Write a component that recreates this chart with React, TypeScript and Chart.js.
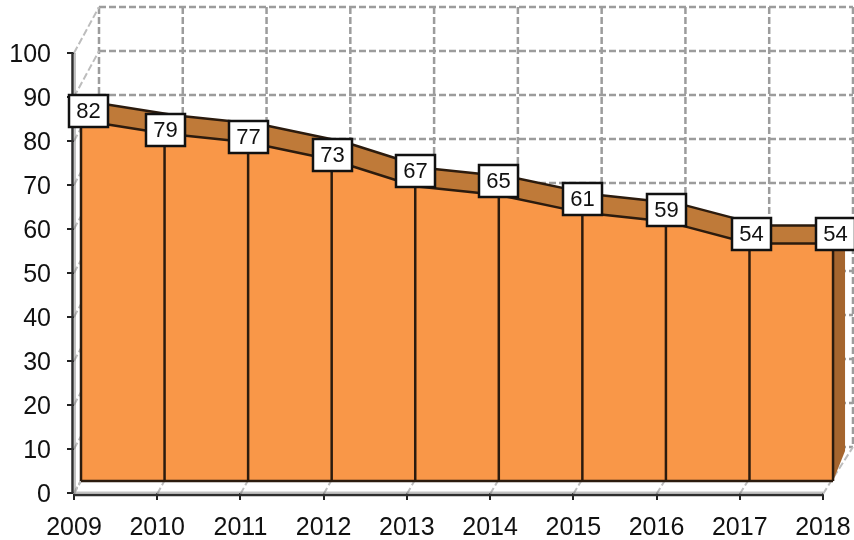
import React, { useEffect, useRef } from "react";
import { Chart, registerables } from "chart.js";

Chart.register(...registerables);

const years = ["2009", "2010", "2011", "2012", "2013", "2014", "2015", "2016", "2017", "2018"];
const values = [82, 79, 77, 73, 67, 65, 61, 59, 54, 54];
const yTicks = [0, 10, 20, 30, 40, 50, 60, 70, 80, 90, 100];

// label placement relative to the front ridge of the area (style only)
const labelNudgeX = [7, 1, 0, 1, 0, 0, 0, 1, 2, 2];
const labelNudgeY = [-9.7, -3.4, -5.2, -4.8, -15, -14, -13.6, -11.4, -9.4, -9.4];

const FRONT = "#F99748";
const TOP = "#BF7A39";
const SIDE = "#A5652E";
const EDGE = "#2B1B0E";
const GRID = "#9C9C9C";
const AXIS = "#2E2E2E";
const FONT = '"Liberation Sans", Arial, sans-serif';

const depth3d = {
  id: "depth3d",
  beforeDatasetsDraw(chart: any) {
    const { ctx, scales } = chart;
    const { x, y, x2, y2 } = scales;
    const bx = (i: number) => x.getPixelForValue(i * 1.0067) + 25;
    const by = (v: number) => y.getPixelForValue(v) - 46;

    ctx.save();
    ctx.lineWidth = 2.5;
    ctx.setLineDash([7, 3]);
    ctx.strokeStyle = GRID;
    yTicks.forEach((v) => {
      ctx.beginPath();
      ctx.moveTo(bx(0), by(v));
      ctx.lineTo(bx(years.length - 1), by(v));
      ctx.stroke();
    });
    years.forEach((_, i) => {
      ctx.beginPath();
      ctx.moveTo(bx(i), by(100));
      ctx.lineTo(bx(i), by(0));
      ctx.stroke();
    });
    // side wall and floor diagonals
    ctx.strokeStyle = "#BDBDBD";
    ctx.lineWidth = 2;
    yTicks.forEach((v) => {
      ctx.beginPath();
      ctx.moveTo(x.getPixelForValue(0), y.getPixelForValue(v));
      ctx.lineTo(bx(0), by(v));
      ctx.stroke();
    });
    years.forEach((_, i) => {
      ctx.beginPath();
      ctx.moveTo(x.getPixelForValue(i), y.getPixelForValue(0) + 1);
      ctx.lineTo(bx(i), by(0));
      ctx.stroke();
    });
    ctx.setLineDash([]);

    // area depth: top strips and right-hand side face
    const dx = 12;
    const dy = -18;
    ctx.lineJoin = "round";
    ctx.fillStyle = TOP;
    ctx.beginPath();
    values.forEach((v, i) => {
      const px = x2.getPixelForValue(i);
      const py = y2.getPixelForValue(v);
      if (i === 0) ctx.moveTo(px, py);
      else ctx.lineTo(px, py);
    });
    for (let i = values.length - 1; i >= 0; i--) {
      ctx.lineTo(x2.getPixelForValue(i) + dx, y2.getPixelForValue(values[i]) + dy);
    }
    ctx.closePath();
    ctx.fill();

    ctx.strokeStyle = EDGE;
    ctx.lineWidth = 2.5;
    ctx.beginPath();
    values.forEach((v, i) => {
      const px = x2.getPixelForValue(i) + dx;
      const py = y2.getPixelForValue(v) + dy;
      if (i === 0) ctx.moveTo(px, py);
      else ctx.lineTo(px, py);
    });
    ctx.stroke();

    const last = values.length - 1;
    const rx = x2.getPixelForValue(last);
    ctx.fillStyle = SIDE;
    ctx.beginPath();
    ctx.moveTo(rx, y2.getPixelForValue(values[last]));
    ctx.lineTo(rx + dx, y2.getPixelForValue(values[last]) + dy);
    ctx.lineTo(rx + dx, y2.getPixelForValue(0) - 30);
    ctx.lineTo(rx, y2.getPixelForValue(0));
    ctx.closePath();
    ctx.fill();
    ctx.restore();
  },
  afterDatasetsDraw(chart: any) {
    const { ctx, scales } = chart;
    const { x, y, x2, y2 } = scales;
    ctx.save();

    // dividers and frame of the front face
    ctx.strokeStyle = EDGE;
    ctx.lineWidth = 2.5;
    values.forEach((v, i) => {
      ctx.beginPath();
      ctx.moveTo(x2.getPixelForValue(i), y2.getPixelForValue(v));
      ctx.lineTo(x2.getPixelForValue(i), y2.getPixelForValue(0));
      ctx.stroke();
    });
    ctx.beginPath();
    ctx.moveTo(x2.getPixelForValue(0), y2.getPixelForValue(0));
    ctx.lineTo(x2.getPixelForValue(values.length - 1), y2.getPixelForValue(0));
    ctx.stroke();

    // axis lines, with their soft grey shadow
    const ax = x.getPixelForValue(0) - 1.5;
    const ay = y.getPixelForValue(0) + 2;
    ctx.strokeStyle = "rgba(120,120,120,0.45)";
    ctx.lineWidth = 2;
    ctx.beginPath();
    ctx.moveTo(ax + 2.5, y.getPixelForValue(100));
    ctx.lineTo(ax + 2.5, y.getPixelForValue(0));
    ctx.moveTo(x.getPixelForValue(0), ay - 2.5);
    ctx.lineTo(x.getPixelForValue(values.length - 1), ay - 2.5);
    ctx.stroke();

    ctx.strokeStyle = AXIS;
    ctx.lineWidth = 2.5;
    ctx.beginPath();
    ctx.moveTo(ax, y.getPixelForValue(100));
    ctx.lineTo(ax, y.getPixelForValue(0));
    ctx.stroke();
    ctx.beginPath();
    ctx.moveTo(x.getPixelForValue(0), ay);
    ctx.lineTo(x.getPixelForValue(values.length - 1), ay);
    ctx.stroke();

    // value labels
    ctx.font = `22px ${FONT}`;
    ctx.textAlign = "center";
    ctx.textBaseline = "middle";
    values.forEach((v, i) => {
      const cx = x2.getPixelForValue(i) + labelNudgeX[i];
      const cy = y2.getPixelForValue(v) + labelNudgeY[i];
      const w = 39;
      const h = 32;
      ctx.fillStyle = "#FFFFFF";
      ctx.strokeStyle = "#111111";
      ctx.lineWidth = 2.5;
      ctx.beginPath();
      ctx.rect(Math.round(cx - w / 2), Math.round(cy - h / 2), w, h);
      ctx.fill();
      ctx.stroke();
      ctx.fillStyle = "#111111";
      ctx.fillText(String(v), Math.round(cx - w / 2) + w / 2, Math.round(cy - h / 2) + h / 2 + 1);
    });
    ctx.restore();
  },
};

export default function App() {
  const ref = useRef<HTMLCanvasElement>(null);
  useEffect(() => {
    document.body.style.margin = "0";
    const chart = new Chart(ref.current!, {
      type: "line",
      data: {
        datasets: [
          {
            label: "Series",
            data: values.map((v, i) => ({ x: i, y: v })),
            xAxisID: "x2",
            yAxisID: "y2",
            borderColor: EDGE,
            borderWidth: 2.5,
            backgroundColor: FRONT,
            fill: "origin",
            pointRadius: 0,
            tension: 0,
            clip: false,
          },
        ],
      },
      options: {
        animation: false,
        responsive: false,
        layout: { padding: { top: 53, left: 0, right: 0, bottom: 0 } },
        plugins: { legend: { display: false }, tooltip: { enabled: false }, title: { display: false } },
        scales: {
          x: {
            type: "linear",
            min: 0,
            max: 9.373,
            border: { display: false },
            grid: { drawOnChartArea: false, drawTicks: true, tickLength: 7, color: "#222222", lineWidth: 2 },
            afterFit: (s: any) => {
              s.height = 47;
              s.paddingLeft = 0;
              s.paddingRight = 0;
            },
            ticks: {
              stepSize: 1,
              includeBounds: false,
              autoSkip: false,
              maxRotation: 0,
              padding: 13,
              color: "#111111",
              font: { size: 25, family: FONT },
              callback: (v: any) => years[v] ?? "",
            },
          },
          y: {
            type: "linear",
            min: 0,
            max: 100,
            border: { display: false },
            grid: { drawOnChartArea: false, drawTicks: true, tickLength: 7, color: "#222222", lineWidth: 2 },
            afterFit: (s: any) => {
              s.width = 74;
            },
            ticks: {
              stepSize: 10,
              padding: 16,
              labelOffset: 2,
              color: "#111111",
              font: { size: 25, family: FONT },
            },
          },
          x2: { type: "linear", display: false, min: -0.0838, max: 9.2508 },
          y2: { type: "linear", display: false, min: -2.727, max: 97.273 },
        },
      },
      plugins: [depth3d],
    } as any);
    return () => chart.destroy();
  }, []);
  return (
    <canvas
      ref={ref}
      width={854}
      height={540}
      style={{ display: "block", width: 854, height: 540, filter: "blur(0.5px)" }}
    />
  );
}
